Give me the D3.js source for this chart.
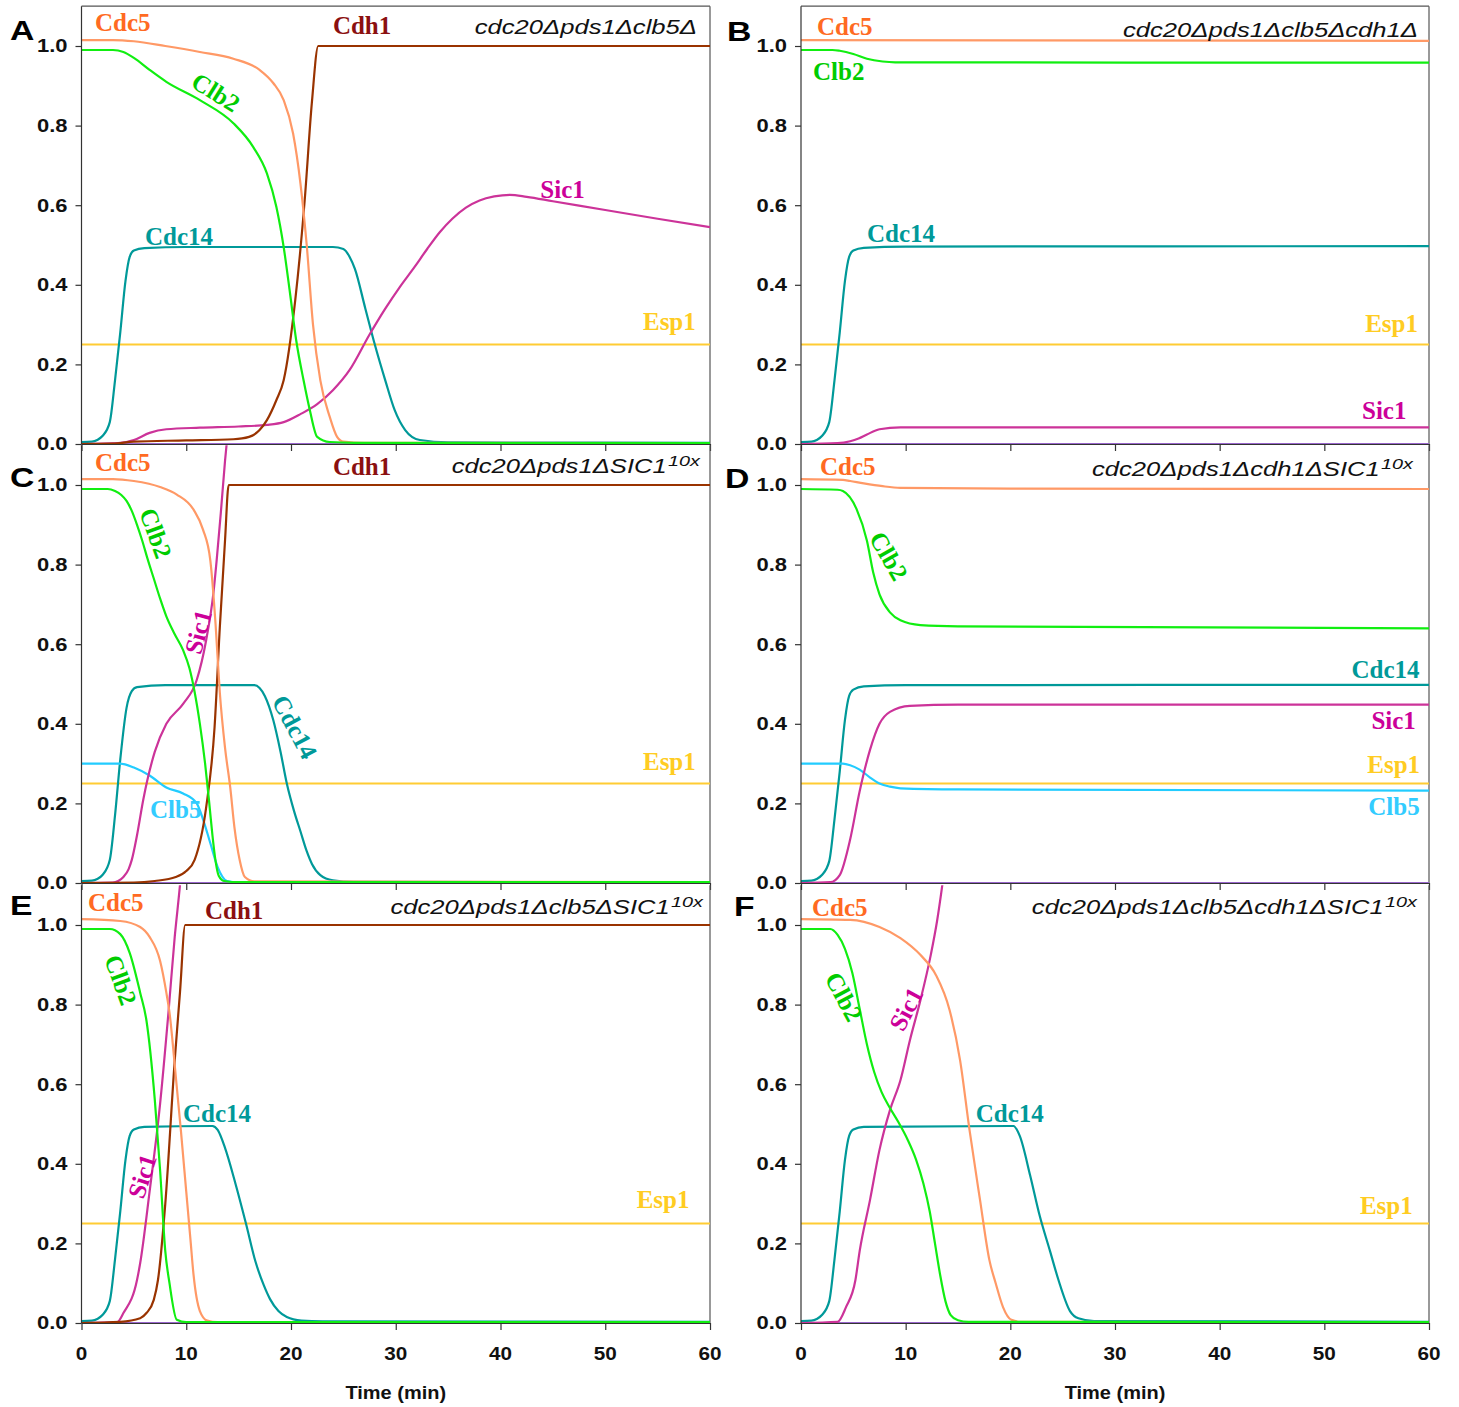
<!DOCTYPE html>
<html><head><meta charset="utf-8">
<script src="https://cdn.jsdelivr.net/npm/d3@7/dist/d3.min.js"></script>
<style>body{margin:0;background:#fff}</style>
</head><body>
<svg id="c" width="1459" height="1407"></svg>
<script>
// ---------------- DATA ----------------
const xTicks=[0,10,20,30,40,50,60];
const yTicks=[0,0.2,0.4,0.6,0.8,1.0];
const zeroLine=[[0,0],[60,0]];

// Panel A: cdc20Δpds1Δclb5Δ
const A_Esp1=[[0,0.25],[60,0.25]];
const A_Cdc5=[[0,1.015],[3,1.015],[5,1.012],[8,1.0],[11.3,0.985],[14.5,0.968],[17,0.94],[18.3,0.907],[19.3,0.864],[20.2,0.78],[20.9,0.655],[21.5,0.5],[22.1,0.3],[22.8,0.16],[23.7,0.068],[24.4,0.018],[25,0.006],[27,0.003],[60,0.002]];
const A_Clb2=[[0,0.99],[3,0.99],[4,0.985],[5,0.97],[6.5,0.94],[8.1,0.91],[11.3,0.864],[14.5,0.806],[16.4,0.746],[17.7,0.68],[18.6,0.596],[19.3,0.495],[19.9,0.38],[20.5,0.26],[21.2,0.16],[21.8,0.085],[22.5,0.018],[23.7,0.005],[26,0.003],[60,0.002]];
const A_Cdh1=[[0,0],[3,0.001],[5,0.006],[10,0.009],[14.5,0.012],[16,0.018],[17,0.035],[17.7,0.06],[18.6,0.11],[19.3,0.16],[20.4,0.36],[21.3,0.61],[22,0.86],[22.6,1.0],[60,1.0]];
const A_Cdc14=[[0,0.005],[1,0.006],[1.5,0.01],[2,0.02],[2.7,0.055],[3.2,0.16],[3.7,0.28],[4.2,0.41],[4.6,0.47],[5,0.486],[6,0.492],[10,0.495],[24,0.495],[25,0.49],[25.6,0.47],[26.1,0.44],[27.1,0.34],[28,0.25],[29,0.16],[29.9,0.085],[30.9,0.035],[32.3,0.01],[35,0.004],[60,0.003]];
const A_Sic1=[[0,0],[3.5,0.002],[5,0.01],[6.5,0.028],[8.1,0.037],[11.3,0.041],[15,0.044],[17.7,0.048],[19.3,0.055],[20.9,0.075],[22.5,0.1],[24,0.135],[25.6,0.186],[27.5,0.275],[29,0.34],[30.4,0.395],[31.8,0.445],[33,0.49],[34.2,0.532],[35.4,0.566],[36.7,0.594],[38,0.612],[39.4,0.622],[40.9,0.626],[42.5,0.621],[45,0.61],[50,0.588],[55,0.566],[60,0.545]];

// Panel B: cdc20Δpds1Δclb5Δcdh1Δ
const B_Esp1=[[0,0.25],[60,0.25]];
const B_Cdc5=[[0,1.015],[60,1.013]];
const B_Clb2=[[0,0.99],[3,0.99],[3.7,0.988],[5,0.98],[6.3,0.968],[7.8,0.961],[9,0.959],[60,0.958]];
const B_Cdc14=[[0,0.005],[1,0.006],[1.5,0.01],[2,0.02],[2.7,0.055],[3.2,0.16],[3.7,0.28],[4.2,0.41],[4.6,0.47],[5,0.486],[6,0.493],[10,0.496],[60,0.497]];
const B_Sic1=[[0,0],[3.5,0.002],[4.7,0.007],[5.5,0.014],[6.3,0.024],[7.5,0.037],[9.5,0.042],[60,0.042]];

// Panel C: cdc20Δpds1ΔSIC1 10x
const C_Esp1=[[0,0.25],[60,0.25]];
const C_Cdc5=[[0,1.015],[3,1.015],[5,1.01],[7.5,0.995],[9.1,0.976],[10.7,0.938],[11.6,0.888],[12.3,0.81],[12.8,0.65],[13.2,0.48],[13.7,0.34],[14.2,0.24],[14.6,0.14],[15.1,0.058],[15.6,0.015],[16.5,0.004],[60,0.002]];
const C_Clb2=[[0,0.99],[2.5,0.99],[3.2,0.985],[3.8,0.975],[4.3,0.96],[4.8,0.935],[5.3,0.9],[5.8,0.86],[6.3,0.815],[6.9,0.765],[7.5,0.715],[8.1,0.67],[8.9,0.625],[9.7,0.585],[10.3,0.54],[10.8,0.48],[11.3,0.4],[11.8,0.3],[12.2,0.2],[12.5,0.12],[12.8,0.055],[13.1,0.018],[13.6,0.005],[15,0.002],[60,0.002]];
const C_Cdh1=[[0,0],[5,0.001],[7,0.005],[9,0.015],[10,0.03],[10.8,0.058],[11.9,0.19],[12.7,0.39],[13.2,0.64],[13.7,0.86],[14.05,1.0],[60,1.0]];
const C_Cdc14=[[0,0.005],[1,0.006],[1.5,0.01],[2,0.02],[2.7,0.058],[3.2,0.17],[3.7,0.31],[4.3,0.44],[4.8,0.482],[5.3,0.492],[8,0.497],[16.5,0.497],[17,0.49],[17.5,0.47],[18.3,0.41],[19,0.33],[19.6,0.25],[20.3,0.18],[20.9,0.13],[21.5,0.08],[22,0.048],[22.8,0.02],[24,0.007],[26,0.003],[60,0.002]];
const C_Sic1=[[0,0],[3,0.001],[3.5,0.005],[4,0.015],[4.5,0.035],[4.8,0.058],[5.3,0.12],[5.9,0.21],[7,0.33],[8.1,0.4],[9.7,0.45],[11,0.51],[11.9,0.61],[12.6,0.73],[12.9,0.81],[13.3,0.93],[13.7,1.06],[14.1,1.17]];
const C_Clb5=[[0,0.3],[3.7,0.3],[5,0.29],[6.5,0.27],[8.1,0.24],[9.7,0.225],[11,0.2],[11.6,0.16],[12.3,0.1],[13,0.04],[13.9,0.005],[15,0.002],[60,0.002]];

// Panel D: cdc20Δpds1Δcdh1ΔSIC1 10x
const D_Esp1=[[0,0.25],[60,0.25]];
const D_Cdc5=[[0,1.015],[4,1.013],[4.7,1.01],[6,1.004],[7.8,0.997],[9.5,0.993],[20,0.991],[60,0.99]];
const D_Clb2=[[0,0.99],[3.5,0.988],[4,0.985],[5.3,0.94],[6.3,0.86],[6.9,0.78],[7.5,0.725],[8.5,0.68],[9.5,0.66],[11.4,0.648],[15,0.645],[60,0.64]];
const D_Cdc14=[[0,0.005],[1,0.006],[1.5,0.01],[2,0.02],[2.7,0.055],[3.2,0.16],[3.7,0.28],[4.2,0.41],[4.6,0.47],[5,0.486],[6,0.494],[10,0.497],[60,0.498]];
const D_Sic1=[[0,0],[2.8,0.002],[3.7,0.02],[4.7,0.11],[5.6,0.23],[6.6,0.335],[7.5,0.4],[8.5,0.43],[10.4,0.445],[15,0.448],[60,0.448]];
const D_Clb5=[[0,0.3],[4,0.3],[4.7,0.296],[5.6,0.285],[6.6,0.265],[7.5,0.25],[8.5,0.242],[9.5,0.238],[15,0.235],[60,0.232]];

// Panel E: cdc20Δpds1Δclb5ΔSIC1 10x
const E_Esp1=[[0,0.25],[60,0.25]];
const E_Cdc5=[[0,1.015],[3.7,1.01],[5.6,0.995],[6.5,0.97],[7.5,0.91],[8.1,0.83],[8.4,0.78],[9,0.62],[9.5,0.48],[10,0.33],[10.4,0.21],[10.7,0.12],[11.3,0.03],[12,0.006],[13,0.002],[60,0.002]];
const E_Clb2=[[0,0.99],[2.7,0.99],[3.7,0.977],[4.6,0.93],[5.6,0.83],[6.2,0.76],[7,0.56],[7.5,0.385],[8,0.18],[8.4,0.1],[9.1,0.008],[10,0.002],[60,0.002]];
const E_Cdh1=[[0,0],[3.7,0.003],[5.6,0.012],[6.2,0.025],[6.9,0.058],[7.3,0.108],[8,0.3],[8.9,0.66],[9.4,0.83],[9.9,1.0],[60,1.0]];
const E_Cdc14=[[0,0.005],[1,0.006],[1.5,0.01],[2,0.02],[2.7,0.055],[3.2,0.16],[3.7,0.28],[4.2,0.41],[4.6,0.47],[5,0.486],[6,0.493],[12.5,0.495],[13,0.485],[13.7,0.44],[14.7,0.35],[15.7,0.25],[16.6,0.155],[17.4,0.095],[18,0.06],[18.8,0.03],[19.6,0.015],[21,0.006],[23,0.004],[60,0.003]];
const E_Sic1=[[0,0],[3.4,0.002],[4,0.025],[5.3,0.108],[5.6,0.15],[6.5,0.33],[7.5,0.55],[8.3,0.78],[8.9,0.97],[9.4,1.1],[9.6,1.16]];

// Panel F: cdc20Δpds1Δclb5Δcdh1ΔSIC1 10x
const F_Esp1=[[0,0.25],[60,0.25]];
const F_Cdc5=[[0,1.015],[4.7,1.013],[7.5,0.995],[9.5,0.967],[11.4,0.925],[12.9,0.874],[14.2,0.786],[15.2,0.66],[16.1,0.485],[17.1,0.31],[18,0.158],[18.6,0.1],[19.3,0.04],[20.1,0.008],[21,0.003],[60,0.002]];
const F_Clb2=[[0,0.99],[2.8,0.99],[3.5,0.975],[4.2,0.94],[4.9,0.88],[5.6,0.79],[6.3,0.7],[7,0.63],[7.7,0.58],[8.5,0.54],[9.3,0.505],[10.2,0.46],[11,0.41],[11.7,0.35],[12.3,0.28],[12.8,0.2],[13.3,0.12],[13.8,0.055],[14.3,0.02],[15,0.007],[16,0.003],[60,0.002]];
const F_Cdc14=[[0,0.005],[1,0.006],[1.5,0.01],[2,0.02],[2.7,0.055],[3.2,0.16],[3.7,0.28],[4.2,0.41],[4.6,0.47],[5,0.486],[6,0.493],[20.3,0.495],[20.9,0.47],[21.9,0.37],[22.8,0.27],[23.8,0.18],[24.6,0.108],[25.7,0.03],[26.5,0.012],[28,0.005],[60,0.003]];
const F_Sic1=[[0,0],[3.5,0.003],[4.3,0.04],[5.2,0.108],[5.6,0.18],[6.6,0.31],[7.5,0.435],[8.5,0.535],[9.5,0.61],[10.4,0.71],[11.4,0.81],[12.4,0.925],[13,1.01],[13.5,1.1],[13.8,1.16]];

// ---------------- STYLE / LAYOUT ----------------
const colors={
  Zero:{line:"#9966CC"},
  Esp1:{line:"#FFCC33",label:"#FFCC22"},
  Cdc14:{line:"#009999",label:"#009999"},
  Clb5:{line:"#22CCFF",label:"#33CCFF"},
  Sic1:{line:"#CC3399",label:"#CC0099"},
  Cdh1:{line:"#993300",label:"#8B1010"},
  Cdc5:{line:"#FF9966",label:"#FF6A22"},
  Clb2:{line:"#11EE11",label:"#00CC00"}
};
const drawOrder=["Zero","Esp1","Cdc14","Clb5","Sic1","Cdh1","Cdc5","Clb2"];
const cols=[{x0:81.5,x1:710},{x0:801,x1:1429}];
const rows=[{yb:444},{yb:883},{yb:1323}];
const unit=398, ymax=1.1;

const panels=[
 {key:"A",col:0,row:0,letter:[10,40],data:{Esp1:A_Esp1,Cdc14:A_Cdc14,Sic1:A_Sic1,Cdh1:A_Cdh1,Cdc5:A_Cdc5,Clb2:A_Clb2},
  title:{main:"cdc20Δpds1Δclb5Δ",sup:"",x:697,y:34},
  labels:[["Cdc5",1.29,1.038,0],["Cdh1",24.0,1.030,0],["Cdc14",6.06,0.5,0],["Sic1",43.8,0.618,0],["Esp1",53.6,0.286,0],["Clb2",12.84,0.884,32,true]]},
 {key:"B",col:1,row:0,letter:[727,41],data:{Esp1:B_Esp1,Cdc14:B_Cdc14,Sic1:B_Sic1,Cdc5:B_Cdc5,Clb2:B_Clb2},
  title:{main:"cdc20Δpds1Δclb5Δcdh1Δ",sup:"",x:1418,y:37},
  labels:[["Cdc5",1.53,1.028,0],["Clb2",1.15,0.915,0],["Cdc14",6.3,0.508,0],["Esp1",53.9,0.281,0],["Sic1",53.6,0.063,0]]},
 {key:"C",col:0,row:1,letter:[10,487],data:{Esp1:C_Esp1,Cdc14:C_Cdc14,Clb5:C_Clb5,Sic1:C_Sic1,Cdh1:C_Cdh1,Cdc5:C_Cdc5,Clb2:C_Clb2},
  title:{main:"cdc20Δpds1ΔSIC1",sup:"10x",x:700,y:473},
  labels:[["Cdc5",1.29,1.035,0],["Cdh1",24.0,1.025,0],["Clb2",7.11,0.879,70,true],["Sic1",11.12,0.631,-75,true],["Cdc14",20.38,0.392,62,true],["Clb5",6.54,0.163,0],["Esp1",53.6,0.284,0]]},
 {key:"D",col:1,row:1,letter:[725,488],data:{Esp1:D_Esp1,Cdc14:D_Cdc14,Clb5:D_Clb5,Sic1:D_Sic1,Cdc5:D_Cdc5,Clb2:D_Clb2},
  title:{main:"cdc20Δpds1Δcdh1ΔSIC1",sup:"10x",x:1413,y:476},
  labels:[["Cdc5",1.81,1.025,0],["Clb2",8.4,0.822,60,true],["Cdc14",52.6,0.515,0],["Sic1",54.5,0.387,0],["Esp1",54.1,0.276,0],["Clb5",54.2,0.171,0]]},
 {key:"E",col:0,row:2,letter:[10,915],data:{Esp1:E_Esp1,Cdc14:E_Cdc14,Sic1:E_Sic1,Cdh1:E_Cdh1,Cdc5:E_Cdc5,Clb2:E_Clb2},
  title:{main:"cdc20Δpds1Δclb5ΔSIC1",sup:"10x",x:703,y:914},
  labels:[["Cdc5",0.62,1.035,0],["Cdh1",11.79,1.015,0],["Cdc14",9.69,0.505,0],["Esp1",53.0,0.289,0],["Clb2",3.77,0.862,70,true],["Sic1",5.78,0.369,-72,true]]},
 {key:"F",col:1,row:2,letter:[734,916],data:{Esp1:F_Esp1,Cdc14:F_Cdc14,Sic1:F_Sic1,Cdc5:F_Cdc5,Clb2:F_Clb2},
  title:{main:"cdc20Δpds1Δclb5Δcdh1ΔSIC1",sup:"10x",x:1417,y:914},
  labels:[["Cdc5",1.05,1.023,0],["Cdc14",16.7,0.505,0],["Esp1",53.4,0.274,0],["Clb2",4.11,0.82,62,true],["Sic1",10.03,0.789,-62,true]]}
];

// ---------------- DRAW ----------------
const svg=d3.select("#c");
const sans="'Liberation Sans', Arial, Helvetica, sans-serif";
const serif="'Liberation Serif', 'Times New Roman', Times, serif";

panels.forEach((p,i)=>{
  const c=cols[p.col], r=rows[p.row];
  const x=d3.scaleLinear().domain([0,60]).range([c.x0,c.x1]);
  const y=d3.scaleLinear().domain([0,1]).range([r.yb,r.yb-unit]);
  const g=svg.append("g");
  const clipId="clip"+p.key;
  g.append("clipPath").attr("id",clipId).append("rect")
    .attr("x",x(0)).attr("y",y(ymax)).attr("width",x(60)-x(0)).attr("height",y(0)-y(ymax)+3);

  // frame (right & top)
  g.append("line").attr("x1",x(60)).attr("x2",x(60)).attr("y1",y(ymax)).attr("y2",y(0))
    .attr("stroke","#555").attr("stroke-width",1.2);
  if(p.row===0){
    g.append("line").attr("x1",x(0)).attr("x2",x(60)).attr("y1",y(ymax)).attr("y2",y(ymax))
      .attr("stroke","#555").attr("stroke-width",1.2);
  }

  const lines=g.append("g").attr("clip-path",`url(#${clipId})`);
  const lineGen=d3.line().x(d=>x(d[0])).y(d=>y(d[1])).curve(d3.curveMonotoneX);
  drawOrder.forEach(k=>{
    const d = k==="Zero" ? zeroLine : p.data[k];
    if(!d) return;
    lines.append("path").datum(d).attr("d",lineGen).attr("fill","none")
      .attr("stroke",colors[k].line).attr("stroke-width",k==="Zero"?2:2.2)
      .attr("stroke-linejoin","round");
  });

  // axes
  const yAx=d3.axisLeft(y).tickValues(yTicks).tickSize(6).tickSizeOuter(0).tickFormat("");
  const ya=g.append("g").attr("transform",`translate(${x(0)},0)`).call(yAx);
  ya.select(".domain").attr("d",`M0,${y(ymax)}V${y(0)}`);
  const xAx=d3.axisBottom(x).tickValues(xTicks).tickSize(7).tickSizeOuter(0).tickFormat("");
  g.append("g").attr("transform",`translate(0,${y(0)})`).call(xAx);
  g.selectAll(".domain").attr("stroke","#333").attr("stroke-width",1.2);
  g.selectAll(".tick line").attr("stroke","#333").attr("stroke-width",1.2);

  // y tick labels
  yTicks.forEach(t=>{
    g.append("text").attr("transform",`translate(${x(0)-14},${y(t)}) scale(1.22,1)`)
      .attr("text-anchor","end").attr("dy","0.36em")
      .attr("font-family",sans).attr("font-weight","bold").attr("font-size",18)
      .attr("fill","#111").text(d3.format(".1f")(t));
  });
  // x tick labels on bottom row
  if(p.row===2){
    xTicks.forEach(t=>{
      g.append("text").attr("transform",`translate(${x(t)},1360) scale(1.12,1)`)
        .attr("text-anchor","middle")
        .attr("font-family",sans).attr("font-weight","bold").attr("font-size",18.5)
        .attr("fill","#111").text(t);
    });
    g.append("text").attr("transform",`translate(${(x(0)+x(60))/2},1399) scale(1.08,1)`)
      .attr("text-anchor","middle")
      .attr("font-family",sans).attr("font-weight","bold").attr("font-size",18.5)
      .attr("fill","#111").text("Time (min)");
  }

  // panel letter
  g.append("text").attr("transform",`translate(${p.letter[0]},${p.letter[1]}) scale(1.25,1)`)
    .attr("font-family",sans).attr("font-weight","bold").attr("font-size",27)
    .attr("fill","#000").text(p.key);

  // title
  const tt=g.append("text").attr("transform",`translate(${p.title.x},${p.title.y}) scale(1.28,1)`)
    .attr("text-anchor","end").attr("font-family",sans).attr("font-style","italic")
    .attr("font-size",20).attr("fill","#111");
  tt.append("tspan").text(p.title.main);
  if(p.title.sup){
    tt.append("tspan").attr("dy",-7).attr("dx",1).attr("font-size",15.5).text(p.title.sup);
  }

  // series labels
  p.labels.forEach(([name,t,v,rot,centered])=>{
    const el=g.append("text")
      .attr("font-family",serif).attr("font-weight","bold").attr("font-size",25)
      .attr("fill",colors[name].label).text(name);
    if(centered){
      el.attr("text-anchor","middle").attr("dy","0.35em")
        .attr("transform",`translate(${x(t)},${y(v)}) rotate(${rot})`);
    } else {
      el.attr("x",x(t)).attr("y",y(v));
    }
  });
});
</script>
</body></html>
